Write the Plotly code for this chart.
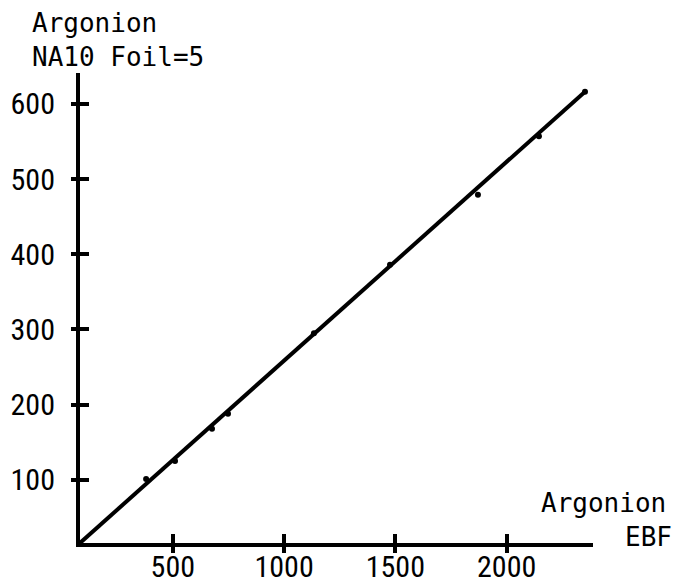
import plotly.graph_objects as go

# measured points (EBF vs NA10 Foil=5)
ebf = [380, 510, 676, 748, 1134, 1476, 1871, 2145, 2352]
na10 = [101, 125, 168, 188, 295, 386, 479, 557, 616]

# fitted line
line_x = [83, 2352]
line_y = [16, 616]

x_ticks = [500, 1000, 1500, 2000]
y_ticks = [100, 200, 300, 400, 500, 600]

x_range = [83, 2388]
y_range = [16, 641]

tick_font = dict(family="Liberation Sans Narrow, Roboto Condensed, sans-serif", size=30, color="black")
label_font = dict(family="DejaVu Sans Mono, monospace", size=26, color="black")

fig = go.Figure()

fig.add_trace(go.Scatter(
    x=line_x, y=line_y, mode="lines",
    line=dict(color="black", width=4),
    showlegend=False, hoverinfo="skip",
))
fig.add_trace(go.Scatter(
    x=ebf, y=na10, mode="markers",
    marker=dict(color="black", size=6),
    showlegend=False,
))
# invisible trace so the overlay axes (outer half of the crossing ticks) get drawn
fig.add_trace(go.Scatter(
    x=[x_range[0]], y=[y_range[0]], xaxis="x2", yaxis="y2",
    mode="markers", marker=dict(opacity=0), showlegend=False, hoverinfo="skip",
))

axis_common = dict(showgrid=False, zeroline=False, ticks="inside", ticklen=9,
                   tickwidth=4, tickcolor="black", automargin=False,
                   showline=True, linewidth=4, linecolor="black", tickfont=tick_font)

# page body adds a small margin, so the figure is a bit smaller than the window
fig.update_layout(
    template="none",
    width=674, height=580,
    margin=dict(l=72, r=89, t=65, b=45),
    paper_bgcolor="white", plot_bgcolor="white",
    xaxis=dict(range=x_range, tickvals=x_ticks, ticklabelstandoff=-6, **axis_common),
    yaxis=dict(range=y_range, tickvals=y_ticks, ticklabelstandoff=15, **axis_common),
    xaxis2=dict(range=x_range, tickvals=x_ticks, overlaying="x", anchor="y2",
                side="bottom", showgrid=False, zeroline=False, showticklabels=False,
                ticks="outside", ticklen=9, tickwidth=4, tickcolor="black"),
    yaxis2=dict(range=y_range, tickvals=y_ticks, overlaying="y", anchor="x2",
                side="left", showgrid=False, zeroline=False, showticklabels=False,
                ticks="outside", ticklen=8, tickwidth=4, tickcolor="black"),
    annotations=[
        dict(text="Argonion<br>NA10 Foil=5", xref="paper", yref="paper",
             x=-0.098, y=1.142, xanchor="left", yanchor="top", align="left",
             showarrow=False, font=label_font),
        dict(text="Argonion", xref="paper", yref="paper",
             x=0.895, y=0.121, xanchor="left", yanchor="top", align="left",
             showarrow=False, font=label_font),
        dict(text="EBF", xref="paper", yref="paper",
             x=1.058, y=0.049, xanchor="left", yanchor="top", align="left",
             showarrow=False, font=label_font),
    ],
)

fig.write_html("out.html")
